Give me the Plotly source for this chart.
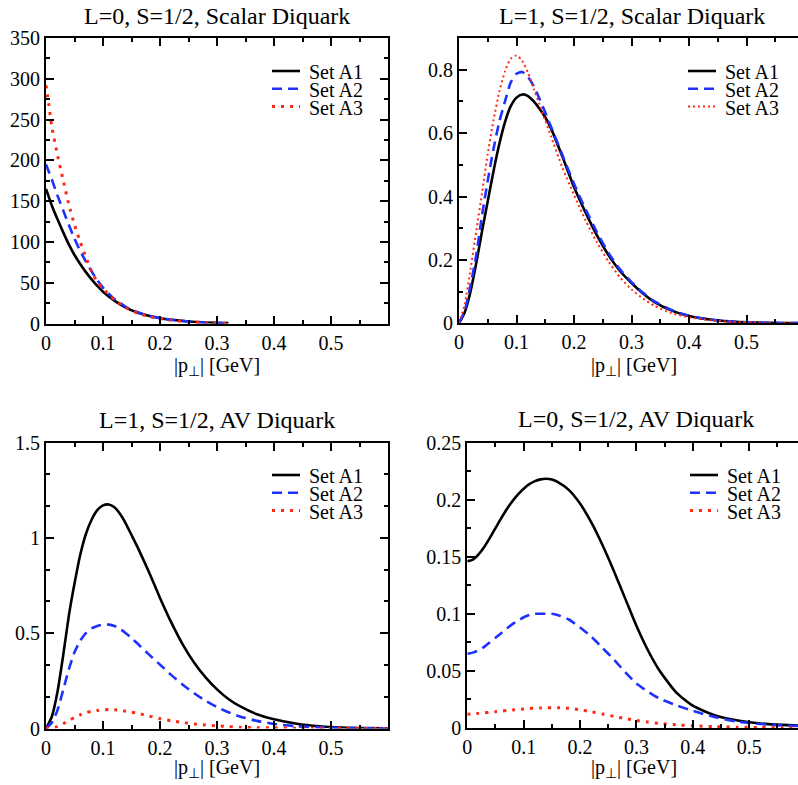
import plotly.graph_objects as go

# ---------------- data ----------------
series_names = ["Set A1", "Set A2", "Set A3"]

titles = ["L=0, S=1/2, Scalar Diquark", "L=1, S=1/2, Scalar Diquark",
          "L=1, S=1/2, AV Diquark", "L=0, S=1/2, AV Diquark"]
x_title = "|p<sub>⊥</sub>| [GeV]"

# panel 1: L=0 scalar
p1_x = [0, 0.005, 0.01, 0.02, 0.03, 0.04, 0.05, 0.06, 0.07, 0.08, 0.09, 0.10,
        0.12, 0.14, 0.16, 0.18, 0.20, 0.22, 0.25, 0.28, 0.32]
p1_a1 = [165, 155, 145, 128, 112, 97, 84, 73, 63, 54, 46, 39,
         28, 19.5, 13.5, 9.5, 6.5, 4.5, 2.5, 1.3, 0.5]
p1_a2 = [195, 186, 177, 157, 139, 121, 104, 89, 76, 64, 53, 44,
         30, 20.5, 14, 9.5, 6.5, 4.5, 2.4, 1.2, 0.4]
p1_a3 = [292, 268, 242, 207, 176, 146, 121, 100, 81, 64, 51, 43,
         29, 19.5, 13, 8.8, 6, 4, 2, 0.9, 0.3]

# common grid for panels 2-4
grid_x = [0, 0.01, 0.02, 0.03, 0.04, 0.05, 0.06, 0.07, 0.08, 0.09, 0.10, 0.11,
          0.12, 0.13, 0.14, 0.15, 0.16, 0.18, 0.20, 0.22, 0.24, 0.26, 0.28, 0.30,
          0.32, 0.34, 0.37, 0.40, 0.44, 0.48, 0.52, 0.56, 0.60]

# panel 2: L=1 scalar
p2_a1 = [0, 0.035, 0.10, 0.19, 0.29, 0.385, 0.48, 0.565, 0.635, 0.685, 0.712, 0.722,
         0.717, 0.700, 0.677, 0.650, 0.615, 0.525, 0.43, 0.35, 0.277, 0.215, 0.165, 0.127,
         0.094, 0.067, 0.04, 0.023, 0.011, 0.005, 0.002, 0.001, 0.0005]
p2_a2 = [0, 0.04, 0.12, 0.215, 0.34, 0.45, 0.55, 0.635, 0.70, 0.76, 0.787, 0.793,
         0.777, 0.748, 0.708, 0.665, 0.62, 0.53, 0.44, 0.36, 0.287, 0.222, 0.17, 0.13,
         0.096, 0.069, 0.041, 0.024, 0.011, 0.005, 0.002, 0.001, 0.0005]
p2_a3 = [0, 0.06, 0.17, 0.29, 0.41, 0.535, 0.64, 0.73, 0.795, 0.835, 0.845, 0.828,
         0.79, 0.74, 0.69, 0.64, 0.59, 0.49, 0.405, 0.325, 0.255, 0.195, 0.145, 0.107,
         0.078, 0.055, 0.032, 0.019, 0.009, 0.004, 0.0015, 0.0007, 0.0003]

# panel 3: L=1 AV
p3_a1 = [0, 0.06, 0.19, 0.38, 0.59, 0.76, 0.91, 1.02, 1.095, 1.145, 1.17, 1.175,
         1.16, 1.125, 1.075, 1.015, 0.955, 0.825, 0.685, 0.555, 0.44, 0.345, 0.268, 0.205,
         0.155, 0.117, 0.075, 0.048, 0.025, 0.012, 0.005, 0.002, 0.001]
p3_a2 = [0, 0.03, 0.095, 0.2, 0.31, 0.4, 0.46, 0.5, 0.525, 0.538, 0.545, 0.545,
         0.538, 0.522, 0.5, 0.475, 0.447, 0.39, 0.335, 0.28, 0.23, 0.185, 0.145, 0.112,
         0.085, 0.063, 0.04, 0.024, 0.012, 0.006, 0.003, 0.0015, 0.0007]
p3_a3 = [0, 0.002, 0.01, 0.025, 0.042, 0.058, 0.072, 0.083, 0.09, 0.095, 0.098, 0.099,
         0.098, 0.095, 0.091, 0.086, 0.08, 0.066, 0.052, 0.04, 0.031, 0.024, 0.018, 0.014,
         0.01, 0.007, 0.0045, 0.003, 0.0015, 0.0008, 0.0004, 0.0002, 0.0001]

# panel 4: L=0 AV
p4_a1 = [0.146, 0.1475, 0.152, 0.1585, 0.1665, 0.175, 0.1835, 0.1915, 0.1985, 0.2045, 0.2095, 0.2135,
         0.2162, 0.2177, 0.2182, 0.2175, 0.2155, 0.2085, 0.1965, 0.180, 0.160, 0.1375, 0.1135, 0.0895,
         0.0685, 0.051, 0.0315, 0.0195, 0.011, 0.0065, 0.004, 0.0027, 0.002]
p4_a2 = [0.065, 0.066, 0.068, 0.071, 0.075, 0.079, 0.083, 0.087, 0.091, 0.094, 0.097, 0.099,
         0.1, 0.1, 0.1, 0.1, 0.099, 0.095, 0.088, 0.08, 0.07, 0.06, 0.049, 0.039,
         0.032, 0.026, 0.02, 0.015, 0.0095, 0.0055, 0.0035, 0.0022, 0.0015]
p4_a3 = [0.012, 0.0124, 0.0128, 0.0133, 0.0138, 0.0143, 0.0148, 0.0153, 0.0158, 0.0163, 0.0167, 0.0171,
         0.0174, 0.0176, 0.0178, 0.0178, 0.0178, 0.0172, 0.016, 0.0142, 0.0122, 0.0102, 0.0083, 0.0066,
         0.0052, 0.004, 0.0028, 0.0019, 0.0012, 0.0007, 0.0004, 0.0002, 0.0001]

x_tickvals = [0, 0.1, 0.2, 0.3, 0.4, 0.5]
x_ticktext = ["0", "0.1", "0.2", "0.3", "0.4", "0.5"]
y_tick_sets = [
    ([0, 50, 100, 150, 200, 250, 300, 350], ["0", "50", "100", "150", "200", "250", "300", "350"]),
    ([0, 0.2, 0.4, 0.6, 0.8], ["0", "0.2", "0.4", "0.6", "0.8"]),
    ([0, 0.5, 1, 1.5], ["0", "0.5", "1", "1.5"]),
    ([0, 0.05, 0.1, 0.15, 0.2, 0.25], ["0", "0.05", "0.1", "0.15", "0.2", "0.25"]),
]
X_MAX = 0.6

# ---------------- layout geometry (pixels of the 798x785 window) ----------------
W, H = 798, 785
FONT = "Liberation Serif, Times New Roman, serif"

def fx(p):
    return p / W

def fy(p):
    return 1 - p / H

panels = [
    dict(x=p1_x, ys=[p1_a1, p1_a2, p1_a3], xd=(46, 388), yd=(38, 323.5),
         yr=[0, 350], ymin=25,
         title_xy=(217, 16), xt_xy=(217, 366), leg_x=272, leg_y=71, red_thin=False),
    dict(x=grid_x, ys=[p2_a1, p2_a2, p2_a3], xd=(459, 804), yd=(38, 323.3),
         yr=[0, 0.9], ymin=0.1,
         title_xy=(632, 16), xt_xy=(634, 366), leg_x=688, leg_y=71, red_thin=True),
    dict(x=grid_x, ys=[p3_a1, p3_a2, p3_a3], xd=(46, 388), yd=(442.5, 728.5),
         yr=[0, 1.5], ymin=1 / 6,
         title_xy=(217, 420), xt_xy=(217, 768), leg_x=272, leg_y=475, red_thin=False),
    dict(x=grid_x, ys=[p4_a1, p4_a2, p4_a3], xd=(467.3, 805.5), yd=(442.5, 728),
         yr=[0, 0.25], ymin=0.025,
         title_xy=(636, 419), xt_xy=(634, 768), leg_x=690, leg_y=475, red_thin=False),
]

BLACK = "black"
BLUE = "rgb(30,50,255)"
RED = "rgb(255,40,20)"

def styles(red_thin):
    return [
        dict(color=BLACK, width=2.6, dash="solid"),
        dict(color=BLUE, width=2.6, dash="10px,6px"),
        dict(color=RED, width=2 if red_thin else 3, dash="2px,3px" if red_thin else "3px,6px"),
    ]

fig = go.Figure()
annotations = []
shapes = []

for i, p in enumerate(panels):
    n = "" if i == 0 else str(i + 1)
    xa, ya = "x" + n, "y" + n
    st = styles(p["red_thin"])
    for name, yv, s in zip(series_names, p["ys"], st):
        fig.add_trace(go.Scatter(
            x=p["x"], y=yv, mode="lines", name=name, showlegend=False, hoverinfo="skip",
            line=dict(color=s["color"], width=s["width"], dash=s["dash"],
                      shape="spline", smoothing=0.6),
            xaxis=xa, yaxis=ya))

    x0, x1 = p["xd"]
    cut = x1 > W  # right panels are cropped by the window edge
    x1v = min(W, x1)
    x_end = X_MAX * (x1v - x0) / (x1 - x0)

    axis_common = dict(showline=True, linecolor="black", linewidth=2,
                       ticks="inside", ticklen=8, tickwidth=1.5, tickcolor="black",
                       showgrid=False, zeroline=False, automargin=False,
                       tickfont=dict(family=FONT, size=20, color="black"))
    fig.layout["xaxis" + n] = dict(
        domain=[fx(x0), fx(x1v)], anchor=ya, range=[0, x_end], mirror="ticks",
        tickmode="array", tickvals=x_tickvals, ticktext=x_ticktext,
        minor=dict(ticks="inside", ticklen=4, tickwidth=1.5, tickcolor="black",
                   dtick=0.05, tick0=0, showgrid=False),
        **axis_common)
    tv, tt = y_tick_sets[i]
    fig.layout["yaxis" + n] = dict(
        domain=[fy(p["yd"][1]), fy(p["yd"][0])], anchor=xa, range=p["yr"],
        mirror=False if cut else "ticks",
        tickmode="array", tickvals=tv, ticktext=tt,
        minor=dict(ticks="inside", ticklen=4, tickwidth=1.5, tickcolor="black",
                   dtick=p["ymin"], tick0=0, showgrid=False),
        **axis_common)

    # subplot title
    annotations.append(dict(text=titles[i], x=fx(p["title_xy"][0]), y=fy(p["title_xy"][1]),
                            xref="paper", yref="paper", showarrow=False,
                            xanchor="center", yanchor="middle",
                            font=dict(family=FONT, size=24, color="black")))
    # x-axis title
    annotations.append(dict(text=x_title, x=fx(p["xt_xy"][0]), y=fy(p["xt_xy"][1]),
                            xref="paper", yref="paper", showarrow=False,
                            xanchor="center", yanchor="middle",
                            font=dict(family=FONT, size=20, color="black")))
    # legend (line samples + labels)
    for k, (name, s) in enumerate(zip(series_names, st)):
        row_y = p["leg_y"] + 17.8 * k
        shapes.append(dict(type="line", xref="paper", yref="paper",
                           x0=fx(p["leg_x"]), x1=fx(p["leg_x"] + 28),
                           y0=fy(row_y), y1=fy(row_y),
                           line=dict(color=s["color"], width=s["width"], dash=s["dash"])))
        annotations.append(dict(text=name, x=fx(p["leg_x"] + 35), y=fy(row_y + 1),
                                xref="paper", yref="paper", showarrow=False,
                                xanchor="left", yanchor="middle",
                                font=dict(family=FONT, size=20, color="black")))

fig.update_layout(width=W, height=H, autosize=False,
                  margin=dict(l=0, r=0, t=0, b=0, pad=0, autoexpand=False),
                  paper_bgcolor="white", plot_bgcolor="white", hovermode=False,
                  annotations=annotations, shapes=shapes, showlegend=False)

# remove the browser's default 8px page margin so the 798x785 figure fills the window
fig.write_html("out.html", config={"displayModeBar": False},
               post_script="document.body.style.margin='0';")
